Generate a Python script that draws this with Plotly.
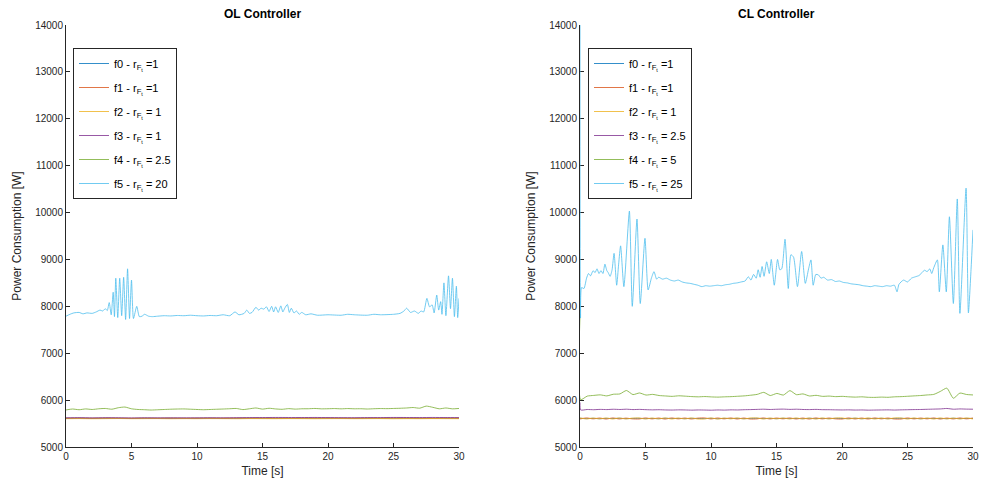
import numpy as np
import plotly.graph_objects as go

# ---------------- data ----------------
names_ol = ["f0 - r<sub>F<sub>t</sub></sub> =1", "f1 - r<sub>F<sub>t</sub></sub> =1",
            "f2 - r<sub>F<sub>t</sub></sub> = 1", "f3 - r<sub>F<sub>t</sub></sub> = 1",
            "f4 - r<sub>F<sub>t</sub></sub> = 2.5", "f5 - r<sub>F<sub>t</sub></sub> = 20"]
names_cl = ["f0 - r<sub>F<sub>t</sub></sub> =1", "f1 - r<sub>F<sub>t</sub></sub> =1",
            "f2 - r<sub>F<sub>t</sub></sub> = 1", "f3 - r<sub>F<sub>t</sub></sub> = 2.5",
            "f4 - r<sub>F<sub>t</sub></sub> = 5", "f5 - r<sub>F<sub>t</sub></sub> = 25"]

# OL controller, low-power flows (sampled every 1 s)
ol_f0 = [5610, 5612, 5609, 5611, 5610, 5608, 5611, 5610, 5612, 5609, 5610, 5611, 5609, 5610, 5612, 5611,
         5610, 5609, 5611, 5610, 5612, 5610, 5609, 5611, 5610, 5612, 5611, 5610, 5609, 5611, 5610]
ol_f1 = [5614, 5616, 5613, 5617, 5615, 5612, 5616, 5614, 5617, 5613, 5615, 5616, 5614, 5617, 5615, 5616,
         5614, 5613, 5616, 5615, 5617, 5614, 5613, 5616, 5615, 5617, 5616, 5614, 5613, 5616, 5615]
ol_f2 = [5604, 5606, 5603, 5605, 5607, 5604, 5605, 5606, 5603, 5605, 5604, 5606, 5605, 5603, 5606, 5605,
         5604, 5606, 5605, 5603, 5605, 5606, 5604, 5605, 5606, 5603, 5605, 5604, 5606, 5605, 5604]
ol_f3 = [5622, 5625, 5621, 5624, 5623, 5620, 5622, 5621, 5620, 5622, 5621, 5623, 5622, 5624, 5627, 5628,
         5630, 5629, 5628, 5630, 5627, 5626, 5625, 5627, 5628, 5630, 5629, 5628, 5630, 5628, 5627]
# OL f4 (sampled every 0.5 s)
ol_f4 = [5790, 5810, 5795, 5812, 5800, 5815, 5822, 5806, 5838, 5852, 5815, 5800, 5795, 5788, 5794, 5800,
         5806, 5810, 5812, 5806, 5800, 5795, 5800, 5805, 5810, 5816, 5822, 5798, 5815, 5832, 5808, 5826,
         5812, 5804, 5818, 5808, 5815, 5816, 5822, 5814, 5816, 5820, 5814, 5820, 5815, 5816, 5810, 5816,
         5820, 5818, 5822, 5826, 5832, 5842, 5828, 5872, 5846, 5815, 5832, 5814, 5822]
# OL f5 (time, power) readings
ol_f5_t = [0.0, 0.3, 0.6, 1.0, 1.3, 1.6, 2.0, 2.3, 2.6, 2.8, 3.0, 3.15, 3.3, 3.45, 3.6, 3.7, 3.8, 3.95,
           4.1, 4.25, 4.4, 4.55, 4.7, 4.85, 5.0, 5.15, 5.4, 5.6, 5.8, 6.0, 6.3, 6.6, 7.0, 7.5, 8.0, 8.5,
           9.0, 9.5, 10.0, 10.5, 11.0, 11.5, 12.0, 12.5, 12.9, 13.2, 13.6, 13.8, 14.0, 14.2, 14.5, 14.7,
           14.9, 15.1, 15.3, 15.5, 15.7, 15.85, 16.0, 16.2, 16.4, 16.55, 16.7, 16.9, 17.05, 17.2, 17.4,
           17.6, 17.8, 18.0, 18.3, 18.7, 19.2, 20.0, 21.0, 21.5, 22.0, 23.0, 23.5, 24.0, 25.0, 25.5,
           25.8, 26.0, 26.3, 26.6, 26.9, 27.1, 27.3, 27.55, 27.75, 27.95, 28.1, 28.3, 28.45, 28.6, 28.7,
           28.85, 29.0, 29.2, 29.35, 29.5, 29.65, 29.8, 29.9, 30.0]
ol_f5_p = [7790, 7830, 7860, 7870, 7840, 7860, 7850, 7880, 7920, 7900, 7950, 7910, 8080, 7820, 8300,
           7780, 8600, 7760, 8600, 7800, 8620, 7720, 8800, 7740, 8560, 7740, 8000, 7780, 7790, 7830,
           7790, 7780, 7790, 7800, 7795, 7805, 7800, 7810, 7800, 7795, 7805, 7800, 7820, 7800, 7880,
           7820, 7850, 7920, 7850, 7870, 7980, 7920, 7960, 7940, 7990, 7890, 8000, 7880, 7990, 7870,
           8010, 7880, 7960, 8040, 7870, 7960, 7860, 7900, 7830, 7870, 7820, 7840, 7810, 7820, 7810,
           7830, 7820, 7810, 7830, 7820, 7830, 7850, 7900, 7960, 7870, 7900, 7850, 7900, 7880, 8170,
           7990, 8030, 7860, 8240, 7920, 8100, 7830, 8500, 7800, 8650, 7950, 8600, 7780, 8430, 7760,
           8170]

# CL controller, low-power flows (sampled every 0.5 s)
cl_f0 = [5612, 5606, 5611, 5604, 5610, 5607, 5612, 5605, 5609, 5611, 5606, 5610, 5604, 5612, 5607, 5610,
         5605, 5611, 5608, 5606, 5612, 5604, 5610, 5607, 5611, 5605, 5609, 5612, 5606, 5610, 5605, 5611,
         5607, 5609, 5604, 5612, 5606, 5610, 5605, 5611, 5608, 5606, 5612, 5604, 5610, 5607, 5611, 5605,
         5609, 5612, 5606, 5610, 5604, 5611, 5607, 5609, 5605, 5612, 5606, 5610, 5608]
cl_f1 = [5598, 5620, 5600, 5618, 5596, 5620, 5598, 5616, 5600, 5597, 5620, 5599, 5618, 5596, 5620, 5600,
         5618, 5597, 5616, 5620, 5598, 5619, 5600, 5620, 5597, 5618, 5596, 5599, 5620, 5598, 5618, 5600,
         5620, 5597, 5618, 5596, 5620, 5599, 5618, 5600, 5596, 5620, 5598, 5618, 5597, 5620, 5600, 5618,
         5597, 5596, 5620, 5599, 5618, 5600, 5620, 5596, 5618, 5598, 5620, 5600, 5618]
cl_f2 = [5620, 5598, 5618, 5600, 5619, 5597, 5620, 5598, 5616, 5620, 5597, 5618, 5600, 5620, 5597, 5618,
         5599, 5620, 5597, 5598, 5620, 5596, 5618, 5600, 5620, 5598, 5619, 5620, 5597, 5618, 5600, 5619,
         5597, 5620, 5598, 5618, 5596, 5620, 5599, 5618, 5620, 5597, 5618, 5600, 5620, 5597, 5618, 5598,
         5620, 5619, 5597, 5620, 5598, 5618, 5596, 5620, 5599, 5618, 5597, 5620, 5598]
cl_f3_start = 5950
cl_f3 = [5790, 5800, 5795, 5802, 5798, 5805, 5800, 5806, 5798, 5802, 5796, 5792, 5795, 5790, 5788, 5792,
         5790, 5786, 5790, 5788, 5785, 5790, 5787, 5792, 5790, 5795, 5798, 5802, 5806, 5800, 5805, 5808,
         5802, 5806, 5800, 5798, 5802, 5796, 5795, 5792, 5790, 5792, 5788, 5790, 5786, 5788, 5790, 5792,
         5788, 5792, 5795, 5798, 5800, 5804, 5808, 5812, 5822, 5806, 5812, 5808, 5806]
cl_f4_start = 7800
cl_f4 = [6010, 6085, 6100, 6112, 6090, 6125, 6132, 6205, 6118, 6152, 6108, 6122, 6098, 6088, 6080, 6092,
         6084, 6075, 6070, 6076, 6068, 6064, 6070, 6074, 6082, 6090, 6104, 6122, 6165, 6098, 6142, 6108,
         6202, 6116, 6132, 6088, 6102, 6080, 6086, 6074, 6080, 6070, 6064, 6070, 6060, 6058, 6064, 6060,
         6070, 6074, 6082, 6090, 6098, 6110, 6122, 6185, 6255, 6040, 6150, 6120, 6110]
# CL f5 (time, power) readings
cl_f5_t = [0.0, 0.04, 0.12, 0.3, 0.5, 0.65, 0.8, 1.0, 1.15, 1.3, 1.45, 1.6, 1.75, 1.9, 2.05, 2.15, 2.3,
           2.45, 2.6, 2.8, 2.95, 3.1, 3.35, 3.77, 3.99, 4.35, 4.6, 4.96, 5.2, 5.45, 5.65, 5.85, 6.0, 6.3,
           6.6, 6.9, 7.2, 7.5, 7.8, 8.1, 8.4, 8.7, 9.0, 9.3, 9.6, 9.9, 10.2, 10.5, 10.8, 11.1, 11.4, 11.7,
           12.0, 12.3, 12.6, 12.85, 13.05, 13.25, 13.45, 13.6, 13.75, 13.9, 14.05, 14.25, 14.45, 14.6,
           14.83, 15.08, 15.25, 15.4, 15.65, 15.9, 16.1, 16.3, 16.6, 16.92, 17.2, 17.45, 17.63, 17.8,
           18.0, 18.2, 18.4, 18.6, 18.9, 19.2, 19.5, 19.8, 20.1, 20.4, 20.7, 21.0, 21.3, 21.6, 21.9,
           22.2, 22.5, 22.8, 23.1, 23.4, 23.7, 24.0, 24.2, 24.35, 24.7, 25.0, 25.3, 25.6, 25.9, 26.1,
           26.3, 26.5, 26.7, 26.85, 27.0, 27.28, 27.43, 27.7, 27.96, 28.2, 28.5, 28.8, 29.0, 29.47,
           29.65, 29.85, 30.0]
cl_f5_p = [15500, 7750, 8400, 8380, 8600, 8700, 8650, 8760, 8720, 8800, 8700, 8760, 8700, 8900, 8760,
           8720, 8640, 8780, 9130, 8450, 8900, 9290, 8420, 10030, 8000, 9860, 8060, 9450, 8350, 8600,
           8740, 8580, 8620, 8580, 8600, 8560, 8540, 8560, 8520, 8500, 8490, 8470, 8450, 8420, 8440,
           8430, 8440, 8450, 8440, 8460, 8470, 8490, 8500, 8520, 8540, 8630, 8560, 8680, 8600, 8780,
           8620, 8850, 8640, 8950, 8700, 9000, 8450, 9000, 8780, 8800, 9430, 8380, 9100, 9050, 8420,
           9170, 8490, 8800, 8990, 8450, 8680, 8670, 8600, 8620, 8560, 8570, 8530, 8540, 8510, 8500,
           8480, 8470, 8460, 8440, 8430, 8420, 8440, 8430, 8420, 8440, 8430, 8450, 8310, 8470, 8560,
           8520, 8600, 8630, 8660, 8720, 8770, 8740, 8800, 8700, 8820, 8990, 8310, 9310, 8310, 9910,
           8060, 10290, 7850, 10520, 7860, 8780, 9630]

x_ticks = [0, 5, 10, 15, 20, 25, 30]
y_ticks = [5000, 6000, 7000, 8000, 9000, 10000, 11000, 12000, 13000, 14000]

colors = ["#0072BD", "#D95319", "#EDB120", "#7E2F8E", "#77AC30", "#4DBEEE"]

# ---------------- figure ----------------
fig = go.Figure()


def grid(n, start=0.0):
    return np.linspace(start, 30.0, n)


ol_series = [
    (grid(len(ol_f0)), ol_f0),
    (grid(len(ol_f1)), ol_f1),
    (grid(len(ol_f2)), ol_f2),
    (grid(len(ol_f3)), ol_f3),
    (grid(len(ol_f4)), ol_f4),
    (np.array(ol_f5_t), ol_f5_p),
]
cl_series = [
    (grid(len(cl_f0)), cl_f0),
    (grid(len(cl_f1)), cl_f1),
    (grid(len(cl_f2)), cl_f2),
    (np.concatenate([[0.0], grid(len(cl_f3), 0.05)]), [cl_f3_start] + cl_f3),
    (np.concatenate([[0.0], grid(len(cl_f4), 0.05)]), [cl_f4_start] + cl_f4),
    (np.array(cl_f5_t), cl_f5_p),
]

for i, (t, p) in enumerate(ol_series):
    fig.add_trace(go.Scatter(
        x=t, y=p, mode="lines", name=names_ol[i], legendgroup=f"ol{i}",
        line=dict(color=colors[i], width=0.8, shape="spline", smoothing=0.6),
        xaxis="x", yaxis="y", legend="legend"))

for i, (t, p) in enumerate(cl_series):
    fig.add_trace(go.Scatter(
        x=t, y=p, mode="lines", name=names_cl[i], legendgroup=f"cl{i}",
        line=dict(color=colors[i], width=0.8, shape="spline", smoothing=0.6),
        xaxis="x2", yaxis="y2", legend="legend2"))

W, H = 984, 490
ink = "#262626"
font = "Liberation Sans, Arial, Helvetica, sans-serif"
ydom = [1 - 447 / H, 1 - 25 / H]


def xaxis(dom, anchor):
    return dict(domain=dom, anchor=anchor, range=[0, 30], tickvals=x_ticks,
                ticks="inside", ticklen=4, tickcolor=ink, showline=True, linecolor=ink,
                linewidth=1, showgrid=False, zeroline=False, mirror=False, automargin=False,
                layer="below traces",
                tickfont=dict(size=10, color=ink, family=font),
                title=dict(text="Time [s]", font=dict(size=12, color=ink, family=font), standoff=5))


def yaxis(anchor):
    return dict(domain=ydom, anchor=anchor, range=[5000, 14000], tickvals=y_ticks, tickformat="d",
                ticks="inside", ticklen=4, tickcolor=ink, showline=True, linecolor=ink,
                linewidth=1, showgrid=False, zeroline=False, mirror=False, automargin=False,
                layer="below traces",
                tickfont=dict(size=10, color=ink, family=font),
                title=dict(text="Power Consumption [W]", font=dict(size=12, color=ink, family=font),
                           standoff=10))


def legend(xpx):
    return dict(x=xpx / W, y=1 - 48 / H, xanchor="left", yanchor="top", xref="paper", yref="paper",
                bgcolor="white", bordercolor=ink, borderwidth=1,
                font=dict(size=11, color="black", family=font), tracegroupgap=5,
                itemwidth=30)


fig.update_layout(
    width=W, height=H, margin=dict(l=0, r=0, t=0, b=0, autoexpand=False),
    paper_bgcolor="white", plot_bgcolor="white",
    xaxis=xaxis([66 / W, 459 / W], "y"),
    yaxis=yaxis("x"),
    xaxis2=xaxis([580 / W, 973 / W], "y2"),
    yaxis2=yaxis("x2"),
    legend=legend(73),
    legend2=legend(588),
    showlegend=True,
    annotations=[
        dict(text="<b>OL Controller</b>", x=(66 + 459) / 2 / W, y=1 - 14 / H, xref="paper", yref="paper",
             xanchor="center", yanchor="middle", showarrow=False,
             font=dict(size=12, color="black", family=font)),
        dict(text="<b>CL Controller</b>", x=(580 + 973) / 2 / W, y=1 - 14 / H, xref="paper", yref="paper",
             xanchor="center", yanchor="middle", showarrow=False,
             font=dict(size=12, color="black", family=font)),
    ],
)

fig.write_html("out.html")
